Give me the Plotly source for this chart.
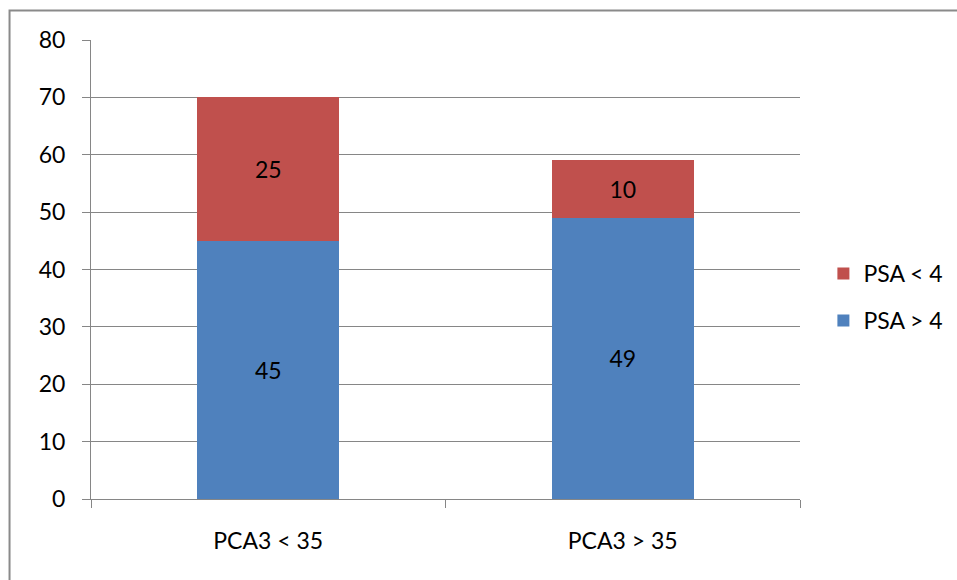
import plotly.graph_objects as go

categories = ["PCA3 < 35", "PCA3 > 35"]
psa_above_4 = [45, 49]
psa_below_4 = [25, 10]
series_names = ["PSA > 4", "PSA < 4"]
y_ticks = [0, 10, 20, 30, 40, 50, 60, 70, 80]

BLUE = "#4F81BD"
RED = "#C0504D"
GRID = "#868686"
FONT = dict(family="Lato, Open Sans, sans-serif", size=23, color="black")

fig = go.Figure()
fig.add_trace(go.Bar(
    x=categories, y=psa_above_4, name=series_names[0],
    marker=dict(color=BLUE, line=dict(width=0)),
    text=psa_above_4, textposition="inside", insidetextanchor="middle",
    textfont=FONT, legendgroup="a", legendrank=2,
))
fig.add_trace(go.Bar(
    x=categories, y=psa_below_4, name=series_names[1],
    marker=dict(color=RED, line=dict(width=0)),
    text=psa_below_4, textposition="inside", insidetextanchor="middle",
    textfont=FONT, legendgroup="b", legendrank=1,
))

fig.update_layout(
    barmode="stack",
    bargap=0.6,
    width=957, height=580,
    margin=dict(l=91, r=157, t=40, b=81, autoexpand=False),
    paper_bgcolor="white", plot_bgcolor="white",
    font=FONT,
    uniformtext=dict(mode="show", minsize=10),
    legend=dict(
        x=1.033, y=0.44, xanchor="left", yanchor="middle",
        traceorder="grouped", tracegroupgap=14,
        font=FONT, bgcolor="rgba(0,0,0,0)",
    ),
    xaxis=dict(
        showline=True, linecolor=GRID, linewidth=1,
        ticks="outside", tickson="boundaries", ticklen=8,
        tickcolor=GRID, tickwidth=1, showgrid=False,
        tickfont=FONT, ticklabelstandoff=21,
    ),
    yaxis=dict(
        range=[0, 80], tickvals=y_ticks,
        showline=True, linecolor=GRID, linewidth=1,
        ticks="outside", ticklen=8, tickcolor=GRID, tickwidth=1,
        showgrid=True, gridcolor=GRID, gridwidth=1,
        zeroline=False, tickfont=FONT, ticklabelstandoff=12,
    ),
)

# chart frame
fig.add_shape(
    type="rect", xref="paper", yref="paper",
    x0=-0.1149, x1=1.3, y0=-0.2, y1=1.0643,
    line=dict(color="#8a8a8a", width=2), fillcolor="rgba(0,0,0,0)",
    layer="below",
)

fig.write_html("out.html")
